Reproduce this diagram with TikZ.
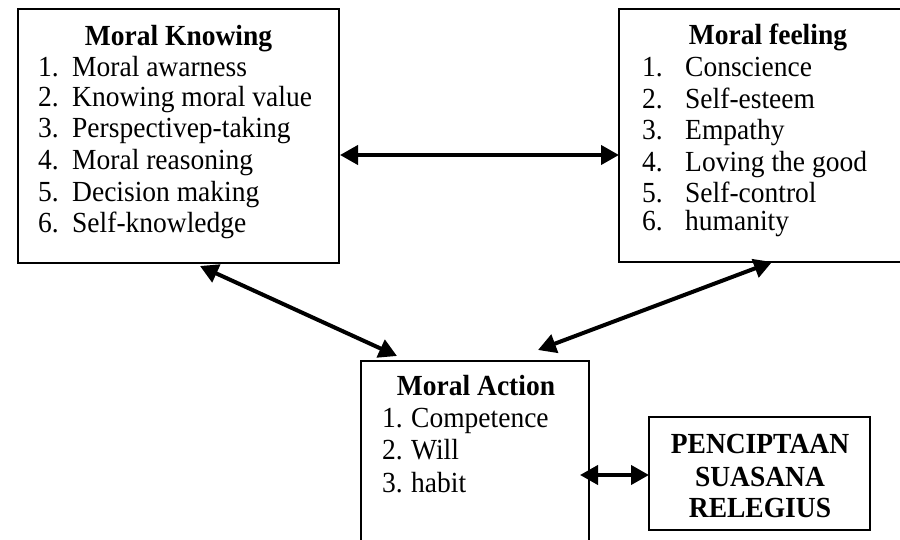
\documentclass[tikz,border=0pt]{standalone}
\usepackage{fontspec}
\usepackage{graphicx}
\setmainfont{Liberation Serif}
\usetikzlibrary{arrows.meta,calc}

% text set slightly taller than wide
\newcommand{\tallx}[1]{\scalebox{1}[1.06]{#1}}

\tikzset{
  panel/.style={draw, line width=2pt, inner sep=0pt, outer sep=0pt},
  title/.style={anchor=base, font=\fontsize{27.5}{32}\selectfont\bfseries, inner sep=0pt},
  entry/.style={anchor=base west, font=\fontsize{27.5}{32}\selectfont, inner sep=0pt},
  link/.style={line width=4pt, {Triangle[length=18pt,width=19pt]}-{Triangle[length=18pt,width=19pt]}}
}

\begin{document}
\begin{tikzpicture}[x=1pt,y=-1pt]
\useasboundingbox (0,0) rectangle (900,540);
\clip (0,0) rectangle (900,540);
\fill[white] (0,0) rectangle (900,540);

% four panels
\node[panel, minimum width=321pt, minimum height=254pt] (know) at (178.5,136) {};
\node[panel, minimum width=298pt, minimum height=253pt] (feel) at (768,135.5) {};
\node[panel, minimum width=228pt, minimum height=200pt] (act) at (475,461) {};
\node[panel, minimum width=221pt, minimum height=113pt] (relig) at (759.5,473.5) {};

% Moral Knowing
\node[title] (knowT) at (178.5,45.5) {\tallx{Moral Knowing}};
\foreach \n/\t/\y in {1/Moral awarness/77, 2/Knowing moral value/107, 3/Perspectivep-taking/138,
                      4/Moral reasoning/170, 5/Decision making/201.5, 6/Self-knowledge/233}{
  \node[entry] (knowN\n) at (38,\y) {\tallx{\n.}};
  \node[entry] (knowI\n) at (72,\y) {\tallx{\t}};
}

% Moral feeling
\node[title] (feelT) at (768,45) {\tallx{Moral feeling}};
\foreach \n/\t/\y in {1/Conscience/77, 2/Self-esteem/109, 3/Empathy/140,
                      4/Loving the good/172, 5/Self-control/203, 6/humanity/231}{
  \node[entry] (feelN\n) at (642,\y) {\tallx{\n.}};
  \node[entry] (feelI\n) at (685,\y) {\tallx{\t}};
}

% Moral Action
\node[title] (actT) at (476,395.5) {\tallx{Moral Action}};
\foreach \n/\t/\y in {1/Competence/427.5, 2/Will/459, 3/habit/492.5}{
  \node[entry] (actN\n) at (382,\y) {\tallx{\n.}};
  \node[entry] (actI\n) at (411,\y) {\tallx{\t}};
}

% PENCIPTAAN SUASANA RELEGIUS
\node[title] (religA) at (760,453) {\tallx{PENCIPTAAN}};
\node[title] (religB) at (760,486) {\tallx{SUASANA}};
\node[title] (religC) at (760,517) {\tallx{RELEGIUS}};

% connector ends on the panel borders
\coordinate (kf1) at ($(know.east)+(1,19)$);
\coordinate (kf2) at ($(feel.west)+(0,19.5)$);
\coordinate (ka1) at ($(know.south west)+(182,3)$);
\coordinate (ka2) at ($(act.north west)+(36,-5)$);
\coordinate (fa1) at ($(feel.south west)+(153,0)$);
\coordinate (fa2) at ($(act.north west)+(177,-11)$);
\coordinate (ar1) at ($(act.east)+(-9,14)$);
\coordinate (ar2) at ($(relig.west)+(0,1.5)$);

\draw[link] (kf1) -- (kf2);
\draw[link] (ka1) -- (ka2);
\draw[link] (fa1) -- (fa2);
\draw[link] (ar1) -- (ar2);
\end{tikzpicture}
\end{document}
